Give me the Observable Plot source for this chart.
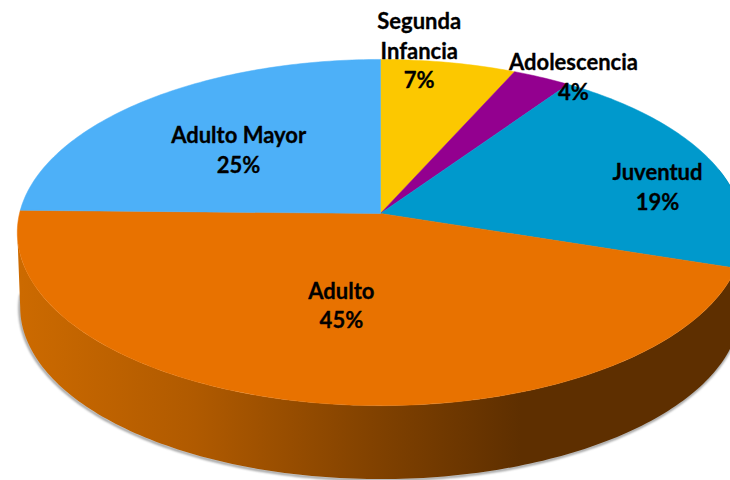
<!DOCTYPE html>
<html>
<head>
<meta charset="utf-8">
<script src="https://cdn.jsdelivr.net/npm/d3@7"></script>
<script src="https://cdn.jsdelivr.net/npm/@observablehq/plot@0.6"></script>
<style>html,body{margin:0;padding:0;background:#fff;overflow:hidden}svg{display:block;background:#fff}</style>
</head>
<body>
<div id="chart"></div>
<script>
// Chart data
const names = ["Segunda\nInfancia", "Adolescencia", "Juventud", "Adulto", "Adulto Mayor"];
const percentLabels = ["7%", "4%", "19%", "45%", "25%"];
const sliceShares = [6.7, 2.9, 20.4, 45.3, 24.7]; // drawn sweep of each slice
const sliceColors = ["#fcc800", "#93008f", "#0099cc", "#e87200", "#4db0f8"];
const labelAngles = [6.5, 34.1, 79.2, 191.2, 312.7];
const labelRadii = [1.058, 1.044, 0.794, 0.526, 0.557];

// Perspective of the tilted disc
const view = {cx: 380, cy: 213, rx: 361, ry: 171, k: 0.11, depth: 75, shrink: 0.992};
const rad = Math.PI / 180;
function project(deg, r = 1, lower = false) {
  const u = r * Math.sin(deg * rad), v = r * Math.cos(deg * rad), w = 1 + view.k * v;
  const s = lower ? view.shrink : 1;
  return {x: view.cx + s * view.rx * u / w, y: view.cy + (lower ? view.depth : 0) - s * view.ry * v / w};
}
function arc(a, b, lower = false) {
  const n = Math.max(2, Math.ceil(Math.abs(b - a)));
  return d3.range(n + 1).map(i => project(a + (b - a) * i / n, 1, lower));
}
function sidePoly(a, b) {
  return [...arc(a, b), ...arc(b, a, true)];
}

const ends = d3.cumsum(sliceShares).map(d => d * 3.6);
const starts = [0, ...ends.slice(0, -1)];
const wedges = names.map((_, i) => [project(0, 0), ...arc(starts[i], ends[i]), project(0, 0)]);
const labelRows = names.map((n, i) => ({
  ...project(labelAngles[i], labelRadii[i]),
  text: n + "\n" + percentLabels[i]
}));

const blurred = px => (index, scales, values, dims, ctx, next) => {
  const g = next(index, scales, values, dims, ctx);
  g.style.filter = `blur(${px}px)`;
  return g;
};

const plot = Plot.plot({
  width: 730,
  height: 480,
  margin: 0,
  x: {domain: [0, 730], range: [0, 730], axis: null},
  y: {domain: [0, 480], range: [0, 480], axis: null},
  marks: [
    Plot.line(arc(100, 268, true), {x: "x", y: "y", dx: -0.5, dy: 1, stroke: "#999", strokeWidth: 2.5, render: blurred(1)}),
    Plot.line(sidePoly(ends[1] + 40, ends[2]), {x: "x", y: "y", fill: "#004e69", stroke: "none"}),
    Plot.line(sidePoly(ends[2], 263.7), {x: "x", y: "y", fill: "url(#sideShade)", stroke: "none"}),
    ...wedges.map((w, i) => Plot.line(w, {x: "x", y: "y", fill: sliceColors[i], stroke: sliceColors[i], strokeWidth: 0.5})),
    Plot.text(labelRows, {
      x: "x", y: "y", dy: -3, text: "text",
      fontFamily: "Lato", fontWeight: 700, fontSize: 22, lineHeight: 1.34,
      fill: "#000", stroke: "#000", strokeWidth: 0.3, textAnchor: "middle", lineAnchor: "middle"
    })
  ]
});

d3.select(plot).style("overflow", "hidden").append("defs").html(`
  <linearGradient id="sideShade" gradientUnits="userSpaceOnUse" x1="20" x2="520" y1="0" y2="0">
    <stop offset="0" stop-color="#cc6a00"/>
    <stop offset="0.35" stop-color="#b05a00"/>
    <stop offset="0.7" stop-color="#824200"/>
    <stop offset="1" stop-color="#5e2f00"/>
  </linearGradient>`);

document.getElementById("chart").append(plot);
</script>
</body>
</html>
